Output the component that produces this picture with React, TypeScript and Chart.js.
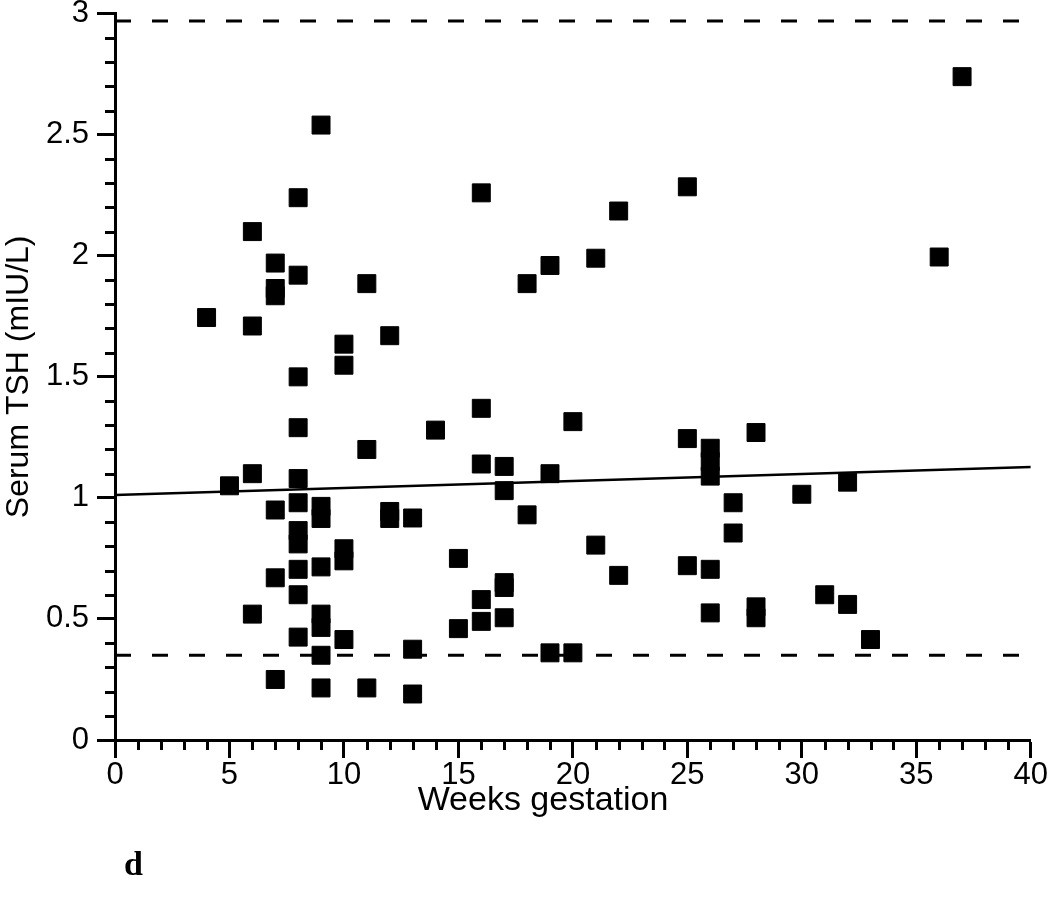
import React, { useEffect, useRef } from "react";
import { Chart, registerables } from "chart.js";

Chart.register(...registerables);

// Weeks of gestation for each measured subject
const weeks = [
  4,
  5,
  6, 6, 6, 6,
  7, 7, 7, 7, 7, 7,
  8, 8, 8, 8, 8, 8, 8, 8, 8, 8, 8,
  9, 9, 9, 9, 9, 9, 9, 9,
  10, 10, 10, 10, 10,
  11, 11, 11,
  12, 12, 12,
  13, 13, 13,
  14,
  15, 15,
  16, 16, 16, 16, 16,
  17, 17, 17, 17, 17,
  18, 18,
  19, 19, 19,
  20, 20,
  21, 21,
  22, 22,
  25, 25, 25,
  26, 26, 26, 26, 26,
  27, 27,
  28, 28, 28,
  30,
  31,
  32, 32,
  33,
  36,
  37,
];

// Serum TSH (mIU/L) for each subject, same order as weeks
const tshValues = [
  1.745,
  1.05,
  2.10, 1.71, 1.10, 0.52,
  1.97, 1.865, 1.835, 0.95, 0.67, 0.25,
  2.24, 1.92, 1.50, 1.29, 1.08, 0.98, 0.865, 0.81, 0.705, 0.60, 0.425,
  2.54, 0.965, 0.915, 0.715, 0.52, 0.465, 0.35, 0.215,
  1.635, 1.548, 0.79, 0.74, 0.415,
  1.885, 1.20, 0.215,
  1.67, 0.944, 0.915,
  0.917, 0.375, 0.19,
  1.28,
  0.75, 0.46,
  2.26, 1.37, 1.14, 0.58, 0.49,
  1.13, 1.03, 0.65, 0.63, 0.505,
  1.885, 0.93,
  1.96, 1.10, 0.36,
  1.315, 0.36,
  1.99, 0.805,
  2.185, 0.68,
  2.285, 1.245, 0.72,
  1.205, 1.15, 1.09, 0.705, 0.525,
  0.98, 0.855,
  1.27, 0.55, 0.505,
  1.015,
  0.60,
  1.065, 0.56,
  0.415,
  1.995,
  2.74,
];

// Regression line end points
const regressionWeeks = [0, 40];
const regressionTsh = [1.012, 1.128];

// Reference range limits (dashed lines)
const limitWeeks = [0, 40.4];
const lowerLimit = 0.35;
const upperLimit = 2.97;

const xTitle = "Weeks gestation";
const yTitle = "Serum TSH (mIU/L)";
const panelLabel = "d";

const minorTicksPlugin = {
  id: "minorTicksAndText",
  afterDraw(chart: any) {
    const ctx = chart.ctx;
    const xs = chart.scales.x;
    const ys = chart.scales.y;
    const area = chart.chartArea;
    ctx.save();
    ctx.strokeStyle = "#000";
    ctx.lineWidth = 3;
    ctx.lineCap = "butt";
    // y minor ticks every 0.1
    for (let i = 1; i < 30; i++) {
      if (i % 5 === 0) continue;
      const y = Math.round(ys.getPixelForValue(i / 10)) + 0.5;
      ctx.beginPath();
      ctx.moveTo(area.left - 10, y);
      ctx.lineTo(area.left, y);
      ctx.stroke();
    }
    // x minor ticks every week
    for (let i = 1; i < 40; i++) {
      if (i % 5 === 0) continue;
      const x = Math.round(xs.getPixelForValue(i)) + 0.5;
      ctx.beginPath();
      ctx.moveTo(x, area.bottom);
      ctx.lineTo(x, area.bottom + 10);
      ctx.stroke();
    }
    // x axis title
    ctx.fillStyle = "#000";
    ctx.font = '34px "Liberation Sans", Arial, sans-serif';
    ctx.textAlign = "center";
    ctx.textBaseline = "middle";
    ctx.fillText(xTitle, 543, 801);
    // panel label
    ctx.font = 'bold 34px "Liberation Serif", "Times New Roman", serif';
    ctx.textAlign = "left";
    ctx.textBaseline = "alphabetic";
    ctx.fillText(panelLabel, 124, 875);
    ctx.restore();
  },
};

export default function App() {
  const ref = useRef<HTMLCanvasElement | null>(null);

  useEffect(() => {
    if (!ref.current) return;
    const points = weeks.map((w, i) => ({ x: w, y: tshValues[i] }));
    const regression = regressionWeeks.map((w, i) => ({ x: w, y: regressionTsh[i] }));
    const lower = limitWeeks.map((w) => ({ x: w, y: lowerLimit }));
    const upper = limitWeeks.map((w) => ({ x: w, y: upperLimit }));

    const chart = new Chart(ref.current, {
      type: "scatter",
      data: {
        datasets: [
          {
            type: "line",
            data: upper,
            borderColor: "#000",
            borderWidth: 3,
            borderDash: [16, 21],
            pointRadius: 0,
            fill: false,
            clip: false as any,
          },
          {
            type: "line",
            data: lower,
            borderColor: "#000",
            borderWidth: 3,
            borderDash: [16, 21],
            pointRadius: 0,
            fill: false,
            clip: false as any,
          },
          {
            type: "line",
            data: regression,
            borderColor: "#000",
            borderWidth: 2.5,
            pointRadius: 0,
            fill: false,
          },
          {
            type: "scatter",
            data: points,
            pointStyle: "rect",
            pointRadius: 12.7,
            backgroundColor: "#000",
            borderColor: "#000",
            borderWidth: 1,
            clip: false as any,
          },
        ],
      },
      options: {
        responsive: false,
        animation: false,
        devicePixelRatio: 1,
        layout: { padding: { left: 0, top: 13, right: 19, bottom: 0 } },
        plugins: {
          legend: { display: false },
          tooltip: { enabled: false },
        },
        scales: {
          x: {
            type: "linear",
            min: 0,
            max: 40,
            afterFit: (s: any) => {
              s.height = 165;
            },
            ticks: {
              stepSize: 5,
              color: "#000",
              font: { family: '"Liberation Sans", Arial, sans-serif', size: 31, lineHeight: 1.0 },
              padding: 2,
              maxRotation: 0,
            },
            grid: {
              drawOnChartArea: false,
              drawTicks: true,
              tickLength: 18,
              tickWidth: 3,
              tickColor: "#000",
            },
            border: { display: true, color: "#000", width: 3 },
          },
          y: {
            type: "linear",
            min: 0,
            max: 3,
            afterFit: (s: any) => {
              s.width = 115;
            },
            ticks: {
              stepSize: 0.5,
              color: "#000",
              font: { family: '"Liberation Sans", Arial, sans-serif', size: 31, lineHeight: 0.2 },
              padding: 8,
              callback: (v: any) => String(Number(v)),
            },
            grid: {
              drawOnChartArea: false,
              drawTicks: true,
              tickLength: 18,
              tickWidth: 3,
              tickColor: "#000",
            },
            border: { display: true, color: "#000", width: 3 },
            title: {
              display: true,
              text: yTitle,
              color: "#000",
              font: { family: '"Liberation Sans", Arial, sans-serif', size: 32 },
              padding: { top: 0, bottom: 0 },
            },
          },
        },
      },
      plugins: [minorTicksPlugin],
    });
    return () => chart.destroy();
  }, []);

  return (
    <canvas
      ref={ref}
      width={1050}
      height={905}
      style={{ position: "fixed", left: 0, top: 0, width: 1050, height: 905, background: "#fff" }}
    />
  );
}
